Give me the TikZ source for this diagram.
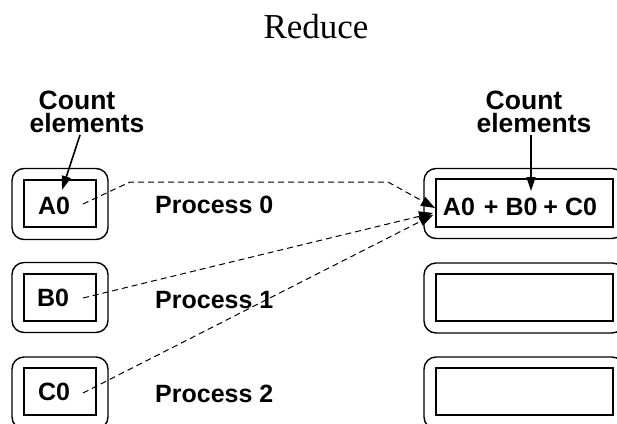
\documentclass[tikz,border=0pt]{standalone}
\usepackage{fontspec}
\setmainfont{Liberation Serif}
\newfontfamily\gothic{Liberation Sans}
\usetikzlibrary{arrows.meta}
\begin{document}
\begin{tikzpicture}[x=1pt,y=-1pt,
  outerbox/.style={draw, line width=1.4pt, rounded corners=12pt, inner sep=0pt},
  innerbox/.style={draw, line width=1.2pt, inner sep=0pt},
  lbl/.style={font=\gothic\bfseries\fontsize{25}{25}\selectfont, inner sep=0pt, anchor=base},
  cnt/.style={font=\gothic\bfseries\fontsize{26.5}{26.5}\selectfont, inner sep=0pt, anchor=base},
  link/.style={line width=1pt, dash pattern=on 6pt off 4pt,
    -{Triangle[length=14pt,width=10pt]}},
  pointer/.style={line width=1.6pt, -{Triangle[length=14pt,width=9pt]}}
]
\clip (0,0) rectangle (617,423);
\useasboundingbox (0,0) rectangle (617,423);

% title
\node[font=\fontsize{35}{40}\selectfont, anchor=base, inner sep=0pt] (title) at (316,38) {Reduce};

% left column: one send buffer per process
\node[outerbox, minimum width=96pt, minimum height=71pt] (a0o) at (60,204) {};
\node[innerbox, minimum width=72pt, minimum height=47pt] (a0) at (60,203.5) {};
\node[outerbox, minimum width=96pt, minimum height=70pt] (b0o) at (60,297.5) {};
\node[innerbox, minimum width=72pt, minimum height=47pt] (b0) at (60,297.5) {};
\node[outerbox, minimum width=96pt, minimum height=72pt] (c0o) at (60,393) {};
\node[innerbox, minimum width=72pt, minimum height=47pt] (c0) at (60,391.5) {};

\node[lbl] (a0t) at (54,214) {A0};
\node[lbl] (b0t) at (53,306) {B0};
\node[lbl] (c0t) at (54,400) {C0};

% process names
\node[lbl, anchor=base west] (p0) at (155,213) {Process 0};
\node[lbl, anchor=base west] (p1) at (155,308) {Process 1};
\node[lbl, anchor=base west] (p2) at (155,402) {Process 2};

% right column: receive buffers, only the root's holds the result
\node[outerbox, minimum width=200pt, minimum height=70pt] (ro0) at (524,203.5) {};
\node[innerbox, minimum width=177pt, minimum height=48pt] (r0) at (524.5,203) {};
\node[outerbox, minimum width=200pt, minimum height=70pt] (ro1) at (524,298) {};
\node[innerbox, minimum width=177pt, minimum height=47pt] (r1) at (524.5,297.5) {};
\node[outerbox, minimum width=200pt, minimum height=72pt] (ro2) at (524,393) {};
\node[innerbox, minimum width=177pt, minimum height=47pt] (r2) at (524.5,391.5) {};

\node[lbl] (sum) at (520,215) {A0\hspace{9pt}+\hspace{7pt}B0\hspace{6pt}+\hspace{7pt}C0};

% count labels
\node[cnt] (cl1) at (77,109) {Count};
\node[cnt] (cl2) at (87,132) {elements};
\node[cnt] (cr1) at (524,109) {Count};
\node[cnt] (cr2) at (534,132) {elements};

\draw[pointer] (80,135) -- (62,190);
\draw[pointer] (531,135) -- (531,191);

% contributions travelling to the root
\coordinate (sa) at (83,204);
\coordinate (sb) at (83,298);
\coordinate (sc) at (83,393);
\coordinate (ta) at (435,208);
\coordinate (tb) at (433,213);
\coordinate (tc) at (433,215);
\coordinate (bend1) at (130,182);
\coordinate (bend2) at (388,182);
\draw[link] (sa) -- (bend1) -- (bend2) -- (ta);
\draw[link] (sb) -- (tb);
\draw[link] (sc) -- (tc);
\end{tikzpicture}
\end{document}
